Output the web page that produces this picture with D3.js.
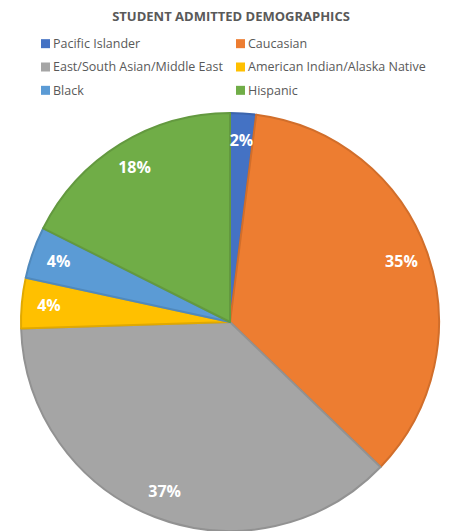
<!DOCTYPE html>
<html>
<head>
<meta charset="utf-8">
<script src="https://cdn.jsdelivr.net/npm/d3@7"></script>
<style>
  body { margin: 0; background: #fff; }
  svg { display: block; font-family: "Open Sans", "Liberation Sans", sans-serif; }
</style>
</head>
<body>
<svg id="chart" width="450" height="531"></svg>
<script>
const categories = ["Pacific Islander", "Caucasian", "East/South Asian/Middle East", "American Indian/Alaska Native", "Black", "Hispanic"]
const values = [2.0, 35.2, 37.3, 3.9, 4.0, 17.6]
const colors = ["#4472C4", "#ED7D31", "#A5A5A5", "#FFC000", "#5B9BD5", "#70AD47"]

const data = categories.map((name, i) => ({ name, value: values[i] }))

const width = 450
const height = 531
const cx = 230, cy = 322, radius = 209

const svg = d3.select("#chart")

const color = d3.scaleOrdinal().domain(categories).range(colors)

// title
svg.append("text")
    .attr("x", 231)
    .attr("y", 21)
    .attr("text-anchor", "middle")
    .attr("font-size", 13)
    .attr("font-weight", "bold")
    .attr("fill", "#595959")
    .text("STUDENT ADMITTED DEMOGRAPHICS")

// legend, two columns
const legendX = [41, 236]
const legendY = d3.scaleBand().domain([0, 1, 2]).range([32, 102])
const legend = svg.append("g")
    .selectAll("g")
    .data(data)
    .join("g")
    .attr("transform", (d, i) => `translate(${legendX[i % 2]},${legendY(Math.floor(i / 2)) + legendY.bandwidth() / 2})`)
legend.append("rect")
    .attr("x", 0).attr("y", -4.5)
    .attr("width", 9).attr("height", 9)
    .attr("fill", d => color(d.name))
legend.append("text")
    .attr("x", 12)
    .attr("dy", "0.35em")
    .attr("font-size", 12.5)
    .attr("fill", "#595959")
    .text(d => d.name)

// pie
const pie = d3.pie().sort(null).value(d => d.value)
const arc = d3.arc().innerRadius(0).outerRadius(radius)
const labelArc = d3.arc().innerRadius(radius * 0.87).outerRadius(radius * 0.87)
const arcs = pie(data)

const g = svg.append("g").attr("transform", `translate(${cx},${cy})`)

g.append("g")
    .selectAll("path")
    .data(arcs)
    .join("path")
    .attr("fill", d => color(d.data.name))
    .attr("stroke", d => d3.color(color(d.data.name)).darker(0.35))
    .attr("stroke-width", 2)
    .attr("stroke-linejoin", "round")
    .attr("d", arc)

// labels
g.append("g")
    .attr("text-anchor", "middle")
    .attr("font-size", 16)
    .attr("font-weight", "bold")
    .attr("fill", "#fff")
    .selectAll("text")
    .data(arcs)
    .join("text")
    .attr("transform", d => `translate(${labelArc.centroid(d)})`)
    .attr("dy", "0.35em")
    .text(d => Math.round(d.data.value) + "%")
</script>
</body>
</html>
